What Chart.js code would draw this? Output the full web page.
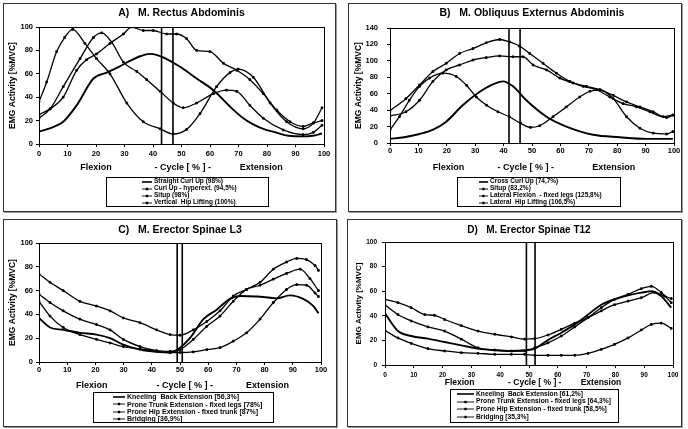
<!DOCTYPE html>
<html>
<head>
<meta charset="utf-8">
<title>EMG Activity - cycle</title>
<script src="https://cdn.jsdelivr.net/npm/chart.js@4.4.1/dist/chart.umd.min.js"></script>
<style>
  html, body { margin: 0; padding: 0; background: #fff; }
  #page { position: relative; width: 688px; height: 429px; overflow: hidden; font-family: "Liberation Sans", Arial, sans-serif; }
  .frame { position: absolute; box-sizing: border-box; border: 1px solid #333; box-shadow: 1px 1px 0 #999; }
  canvas { position: absolute; }
  .legend { position: absolute; box-sizing: border-box; border: 1px solid #000; background: #fff; color: #000; font-weight: bold; filter: grayscale(1); }
  .legend .row { position: absolute; white-space: pre; line-height: 1; }
  .legend svg { position: absolute; }
</style>
</head>
<body>
<div id="page"></div>
<script>
// ==========================================
// DATA
// ==========================================
const cycleTicks = [0, 10, 20, 30, 40, 50, 60, 70, 80, 90, 100];
const pctTicks = [0, 20, 40, 60, 80, 100];
const pctTicksB = [0, 20, 40, 60, 80, 100, 120, 140];
const phaseNames = ['Flexion', '- Cycle [ % ] -', 'Extension'];
const yAxisName = 'EMG Activity [%MVC]';

// A) M. Rectus Abdominis
const aStraightX = [0, 4.5, 8.5, 13.2, 19.1, 23.7, 28, 31.9, 35.5, 38.9, 41.5, 43.6, 49.5, 55.3, 61.2, 67.0, 71.7, 75, 78.7, 83, 87.5, 92.7, 96, 99.3];
const aStraightY = [10.5, 14, 19, 33, 56, 61, 66, 71, 75, 77, 76, 74, 66, 56, 46, 32, 22, 17, 13, 10, 7, 6.5, 7, 9];
const aHyperX = [0, 3.9, 8.5, 14.4, 19.1, 22.0, 25.5, 29.6, 34.3, 37.8, 42.5, 47.1, 50.6, 55.3, 61.2, 65.8, 69.4, 74.0, 78.7, 85.7, 92.7, 96.3, 99.3];
const aHyperY = [22, 30, 49, 73, 91, 95, 87, 70, 62, 55, 45, 35, 31, 35, 43, 46, 45, 33, 22, 12, 8, 10, 16];
const aSitupX = [0, 2.7, 6.2, 9, 11.8, 16.1, 20.2, 24.9, 30.8, 36.6, 42.5, 47.1, 51.8, 56.5, 62.3, 67.0, 69.9, 75.2, 81.1, 86.9, 92.7, 96.3, 99.3];
const aSitupY = [36, 53, 79, 91, 98, 86, 73, 60, 35, 19, 13, 8.5, 12.5, 26, 49, 61, 64, 57, 35, 19, 13, 18, 31];
const aHipX = [0, 3.9, 8.5, 13.2, 16.7, 20.2, 24.9, 29.6, 32.5, 36.6, 40.1, 44.8, 48.3, 51.8, 55.3, 60.0, 64.7, 69.4, 74.0, 78.7, 83.4, 88.1, 92.7, 96.3, 99.3];
const aHipY = [25, 30, 40, 63, 72, 77, 86, 94, 100, 97, 97, 94, 94, 90, 80, 79, 69, 63, 55, 43, 29, 19, 15, 18, 20];
const aDividers = [43, 47];
const aLegend = ['Straight Curl Up (98%)', 'Curl Up - hyperext. (94,5%)', 'Situp (98%)', 'Vertical  Hip Lifting (100%)'];

// B) M. Obliquus Externus Abdominis
const bCrossX = [0, 5, 10.4, 15, 19.8, 25.6, 31.5, 36, 39.8, 43.3, 48, 55.1, 62.1, 71.5, 80.9, 90.4, 99.6];
const bCrossY = [5, 7, 11, 16, 26, 46, 62, 71, 75, 69, 52, 32, 20, 10, 7, 5, 5];
const bSitupX = [0, 3.3, 6.8, 10.4, 13.9, 18.6, 23.3, 27, 30.4, 34, 38, 42, 46, 49.5, 52.7, 57.4, 62.1, 66.8, 70.4, 73.9, 78.6, 83.3, 88.0, 92.7, 97.4, 99.6];
const bSitupY = [16, 32, 52, 69, 79, 85, 81, 70, 56, 46, 38, 32, 24, 19, 21, 32, 44, 56, 63, 64.5, 54, 32, 18, 12, 11, 14];
const bFlexX = [0, 5.6, 10.4, 15.1, 19.8, 24.5, 29.2, 33.9, 38.6, 42.1, 45.6, 49.2, 53.9, 58.6, 63.3, 68, 72.7, 77.4, 82.1, 86.8, 91.5, 96.2, 99.6];
const bFlexY = [39.5, 54, 70.6, 87, 97, 109, 115, 122, 126, 123, 118, 109, 97, 85, 75, 69, 65, 56, 48, 44, 38, 32, 34];
const bHipX = [0, 5.6, 10.4, 15.1, 19.8, 24.5, 29.2, 33.9, 38.6, 43.3, 46.8, 50.4, 55.1, 59.8, 64.5, 69.2, 73.9, 78.6, 83.3, 88, 92.7, 97.4, 99.6];
const bHipY = [33, 38, 52, 75, 89, 95, 101, 104, 106, 105, 105, 95, 89, 79, 73, 69, 65, 58, 50, 44, 38, 31, 34];
const bDividers = [41.9, 45.8];
const bLegend = ['Cross Curl Up (74,7%)', 'Situp (83,2%)', 'Lateral Flexion  - fixed legs (125,8%)', 'Lateral  Hip Lifting (106,5%)'];

// C) M. Erector Spinae L3
const cKneelX = [0, 3.9, 8.6, 14.5, 20.4, 25.2, 29.9, 35.8, 41.7, 46.5, 50.0, 53.5, 58.3, 63.0, 67.7, 71.3, 77.2, 81.9, 84.3, 89, 93.7, 97.3, 99.1];
const cKneelY = [37, 29, 27, 24.5, 23, 20, 14.6, 10.4, 8.5, 8, 12, 20, 36, 44, 53, 55.5, 55, 54, 53.5, 56, 53, 47, 41];
const cTrunkX = [0, 3.9, 8.6, 14.5, 20.4, 25.2, 29.9, 35.8, 41.7, 46.5, 50.0, 54.7, 59.5, 64.2, 68.9, 73.6, 78.4, 83.1, 87.8, 92.6, 96.1, 99.1];
const cTrunkY = [57, 50, 43, 36, 31.5, 27, 19, 13, 9.6, 9, 10.4, 19, 30, 38.6, 51, 61, 64.5, 69.6, 74.4, 78, 70, 60];
const cHipExtX = [0, 3.9, 8.6, 14.5, 20.4, 25.2, 29.9, 35.8, 41.7, 46.5, 50.0, 54.7, 59.5, 64.2, 68.9, 73.6, 78.4, 83.1, 87.8, 91.4, 94.9, 97.9, 99.1];
const cHipExtY = [74, 67, 60, 51, 47, 43, 37, 33, 27, 23, 22.5, 27, 34, 43, 55.5, 61, 67, 78, 84, 87, 86, 81, 77];
const cBridgeX = [0, 3.9, 8.6, 14.5, 20.4, 25.2, 29.9, 35.8, 41.7, 46.5, 50.0, 54.7, 59.5, 64.2, 68.9, 73.6, 78.4, 83.1, 87.8, 91.4, 94.9, 97.9, 99.1];
const cBridgeY = [51, 38.6, 29, 23, 19, 16, 13, 11, 9, 8, 8, 8.5, 10.4, 12, 17.5, 24.5, 36, 50, 61, 65, 64.5, 58, 55];
const cDividers = [49, 50.8];
const cLegend = ['Kneeling  Back Extension [56,3%]', 'Prone Trunk Extension - fixed legs [78%]', 'Prone Hip Extension - fixed trunk [87%]', 'Bridging [36,9%]'];

// D) M. Erector Spinae T12
const dKneelX = [0, 4.5, 9.1, 14.9, 20.7, 26.5, 32.3, 38.1, 43.9, 48.5, 52.0, 56.6, 61.2, 65.9, 70.5, 75.1, 79.7, 84.4, 89.0, 92.5, 95.9, 99.4];
const dKneelY = [42, 27.6, 23.6, 21.4, 18.7, 16, 13.3, 12, 11.4, 12, 13.3, 20.3, 26.2, 33, 41, 49, 53.4, 56.6, 58.8, 60, 56, 46.6];
const dTrunkX = [0, 4.5, 9.1, 14.9, 20.7, 26.5, 32.3, 38.1, 43.9, 48.5, 52.0, 56.6, 61.2, 65.9, 70.5, 75.1, 79.7, 84.4, 89.0, 92.5, 95.9, 99.4];
const dTrunkY = [48.8, 41, 35.8, 31, 27.6, 21, 14, 12.2, 11.4, 11.4, 14, 18, 23.6, 31, 38.5, 46.6, 53.4, 57.5, 62, 64, 59, 50.7];
const dHipExtX = [0, 4.5, 9.1, 13.8, 17.2, 20.7, 26.5, 32.3, 38.1, 43.9, 48.5, 52.0, 56.6, 61.2, 65.9, 70.5, 75.1, 79.7, 84.4, 89.0, 93.6, 97.1, 99.4];
const dHipExtY = [53.4, 50.7, 46.6, 41, 40.4, 37, 32, 27.6, 25, 22.8, 21, 21.4, 24.4, 29, 34, 38.5, 44, 49, 52, 54.7, 59, 56, 54];
const dBridgeX = [0, 4.5, 9.1, 14.9, 20.7, 26.5, 32.3, 38.1, 43.9, 48.5, 52.0, 56.6, 61.2, 65.9, 70.5, 75.1, 79.7, 84.4, 89.0, 92.5, 95.9, 99.4];
const dBridgeY = [28, 22, 17.6, 13.3, 11.4, 10, 9.5, 8.7, 8.7, 8.7, 7.9, 7.9, 7.9, 7.9, 9.5, 12.7, 16.8, 22, 28.5, 33, 34, 29.8];
const dDividers = [49.1, 52.1];
const dLegend = ['Kneeling  Back Extension [61,2%]', 'Prone Trunk Extension - fixed legs [64,3%]', 'Prone Hip Extension - fixed trunk [58,5%]', 'Bridging [35,3%]'];

// ==========================================
// LAYOUT (page pixels)
// ==========================================
const FONT = '"Liberation Sans", Arial, sans-serif';

const panels = [
  {
    id: 'A', x: 0, y: 0, w: 344, h: 215, frame: [3, 3, 333, 209],
    title: 'A)   M. Rectus Abdominis', titleY: 13, titleSize: 10.5,
    area: { l: 39, r: 324, t: 27, b: 144 }, yMax: 100, yTicks: pctTicks,
    tickSize: 7.5, yTickPad: 3, xTickPad: 2.5, yTitlePad: 5, yTitleSize: 8.5,
    phaseAt: [20, 50.4, 78], phaseY: 168, phaseSize: 9,
    series: [[aStraightX, aStraightY, true], [aHyperX, aHyperY], [aSitupX, aSitupY], [aHipX, aHipY]],
    dividers: aDividers,
    legend: { labels: aLegend, box: [106, 177, 163, 30], sample: 36, text: 48, first: 4.7, step: 7, size: 6.5 }
  },
  {
    id: 'B', x: 344, y: 0, w: 344, h: 215, frame: [348, 3, 334, 209],
    title: 'B)   M. Obliquus Externus Abdominis', titleY: 13, titleSize: 10.5,
    area: { l: 46, r: 330, t: 28, b: 143 }, yMax: 140, yTicks: pctTicksB,
    tickSize: 7.5, yTickPad: 9, xTickPad: 0.5, yTitlePad: 7, yTitleSize: 8.5,
    phaseAt: [20.6, 47.8, 78.8], phaseY: 168, phaseSize: 9,
    series: [[bCrossX, bCrossY, true], [bSitupX, bSitupY], [bFlexX, bFlexY], [bHipX, bHipY]],
    dividers: bDividers,
    legend: { labels: bLegend, box: [457, 177, 164, 30], sample: 22, text: 33, first: 4.7, step: 7, size: 6.5 }
  },
  {
    id: 'C', x: 0, y: 215, w: 344, h: 214, frame: [3, 219, 334, 208],
    title: 'C)   M. Erector Spinae L3', titleY: 15, titleSize: 10.5,
    area: { l: 39, r: 321, t: 28, b: 147 }, yMax: 100, yTicks: pctTicks,
    tickSize: 7.5, yTickPad: 3, xTickPad: 0, yTitlePad: 5, yTitleSize: 8.5,
    phaseAt: [18.7, 51.7, 81], phaseY: 171, phaseSize: 9,
    series: [[cKneelX, cKneelY, true], [cTrunkX, cTrunkY], [cHipExtX, cHipExtY], [cBridgeX, cBridgeY]],
    dividers: cDividers,
    legend: { labels: cLegend, box: [93, 392, 181, 31], sample: 20, text: 34, first: 4.7, step: 7.4, size: 7 }
  },
  {
    id: 'D', x: 344, y: 215, w: 344, h: 214, frame: [347, 219, 335, 208],
    title: 'D)   M. Erector Spinae T12', titleY: 15, titleSize: 10,
    area: { l: 41, r: 329, t: 27, b: 150 }, yMax: 100, yTicks: pctTicks,
    tickSize: 6.5, yTickPad: 5, xTickPad: 3, yTitlePad: 7, yTitleSize: 8,
    phaseAt: [25.9, 52, 75], phaseY: 167.5, phaseSize: 8.5,
    series: [[dKneelX, dKneelY, true], [dTrunkX, dTrunkY], [dHipExtX, dHipExtY], [dBridgeX, dBridgeY]],
    dividers: dDividers,
    legend: { labels: dLegend, box: [450, 389, 169, 34], sample: 7, text: 26, first: 5.2, step: 7.6, size: 6.7 }
  }
];

const X_AXIS_H = 20;
const LEFT_PAD = 3;

document.addEventListener('DOMContentLoaded', () => {
  const page = document.getElementById('page');
  panels.forEach(p => {
    drawFrame(page, p);
    buildChart(page, p);
    buildLegend(page, p);
  });
});

function toPoints(xs, ys) {
  return xs.map((x, i) => ({ x: x, y: ys[i] }));
}

function drawFrame(page, p) {
  const f = document.createElement('div');
  f.className = 'frame';
  f.style.left = p.frame[0] + 'px';
  f.style.top = p.frame[1] + 'px';
  f.style.width = p.frame[2] + 'px';
  f.style.height = p.frame[3] + 'px';
  page.appendChild(f);
}

// box round the plot area, panel title and the phase labels under the x axis
function makeDecor(p) {
  return {
    id: 'decor' + p.id,
    afterDraw(chart) {
      const { ctx, chartArea: a } = chart;
      const xs = chart.scales.x;
      ctx.save();
      ctx.strokeStyle = '#000';
      ctx.lineWidth = 1;
      ctx.strokeRect(Math.round(a.left) + 0.5, Math.round(a.top) + 0.5, Math.round(a.right - a.left), Math.round(a.bottom - a.top));
      ctx.fillStyle = '#000';
      ctx.textAlign = 'center';
      ctx.textBaseline = 'middle';
      ctx.font = `bold ${p.titleSize}px ${FONT}`;
      ctx.fillText(p.title, (a.left + a.right) / 2, p.titleY);
      ctx.font = `bold ${p.phaseSize}px ${FONT}`;
      phaseNames.forEach((name, i) => {
        ctx.fillText(name, xs.getPixelForValue(p.phaseAt[i]), p.phaseY);
      });
      ctx.restore();
    }
  };
}

function buildChart(page, p) {
  const canvas = document.createElement('canvas');
  canvas.width = p.w;
  canvas.height = p.h;
  canvas.style.left = p.x + 'px';
  canvas.style.top = p.y + 'px';
  page.appendChild(canvas);

  const datasets = p.series.map(([xs, ys, solid]) => ({
    data: toPoints(xs, ys),
    borderColor: '#000',
    backgroundColor: '#000',
    borderWidth: solid ? 1.9 : 1.3,
    pointRadius: solid ? 0 : 1.2,
    pointStyle: 'rect',
    pointBackgroundColor: '#000',
    pointBorderColor: '#000',
    pointBorderWidth: 1,
    cubicInterpolationMode: 'monotone',
    fill: false
  }));
  p.dividers.forEach(v => {
    datasets.push({
      data: [{ x: v, y: 0 }, { x: v, y: p.yMax }],
      borderColor: '#000',
      borderWidth: 1.6,
      pointRadius: 0,
      fill: false
    });
  });

  const yW = p.area.l - LEFT_PAD;
  const tickFont = { family: FONT, size: p.tickSize, weight: 'bold' };

  new Chart(canvas, {
    type: 'line',
    data: { datasets: datasets },
    options: {
      responsive: false,
      animation: false,
      devicePixelRatio: 1,
      layout: {
        padding: { left: LEFT_PAD, right: p.w - p.area.r, top: p.area.t, bottom: p.h - p.area.b - X_AXIS_H }
      },
      plugins: { legend: { display: false }, tooltip: { enabled: false } },
      scales: {
        x: {
          type: 'linear', min: 0, max: 100,
          afterBuildTicks: s => { s.ticks = cycleTicks.map(v => ({ value: v })); },
          afterFit: s => { s.height = X_AXIS_H; },
          grid: { display: true, drawOnChartArea: false, drawTicks: true, tickLength: 3, color: '#000' },
          border: { display: true, color: '#000', width: 1 },
          ticks: { color: '#000', font: tickFont, padding: p.xTickPad, maxRotation: 0, autoSkip: false }
        },
        y: {
          type: 'linear', min: 0, max: p.yMax,
          afterBuildTicks: s => { s.ticks = p.yTicks.map(v => ({ value: v })); },
          afterFit: s => { s.width = yW; },
          grid: { display: true, drawOnChartArea: false, drawTicks: true, tickLength: 3, color: '#000' },
          border: { display: true, color: '#000', width: 1 },
          ticks: { color: '#000', font: tickFont, padding: p.yTickPad },
          title: {
            display: true, text: yAxisName, color: '#000',
            font: { family: FONT, size: p.yTitleSize, weight: 'bold' },
            padding: { top: p.yTitlePad, bottom: 0 }
          }
        }
      }
    },
    plugins: [makeDecor(p)]
  });
}

function legendSample(solid, w) {
  if (solid) {
    return `<svg width="${w}" height="6"><line x1="0" y1="3" x2="${w}" y2="3" stroke="#000" stroke-width="1.6"/></svg>`;
  }
  const c = w / 2;
  return `<svg width="${w}" height="6"><line x1="0" y1="3" x2="${w}" y2="3" stroke="#000" stroke-width="0.9"/>` +
    `<rect x="${c - 1.2}" y="1.8" width="2.4" height="2.4" fill="#000"/></svg>`;
}

function buildLegend(page, p) {
  const L = p.legend;
  const box = document.createElement('div');
  box.className = 'legend';
  box.style.left = L.box[0] + 'px';
  box.style.top = L.box[1] + 'px';
  box.style.width = L.box[2] + 'px';
  box.style.height = L.box[3] + 'px';
  box.style.fontSize = L.size + 'px';
  const sampleW = L.text - L.sample - 2;
  box.innerHTML = L.labels.map((label, i) => {
    const cy = L.first + i * L.step - 1;
    const solid = p.series[i][2] === true;
    return `<div class="row" style="left:${L.sample - 1}px; top:${cy - 3}px; width:${sampleW}px; height:6px;">${legendSample(solid, sampleW)}</div>` +
      `<div class="row" style="left:${L.text - 1}px; top:${cy - L.size / 2}px;">${label}</div>`;
  }).join('');
  page.appendChild(box);
}
</script>
</body>
</html>
